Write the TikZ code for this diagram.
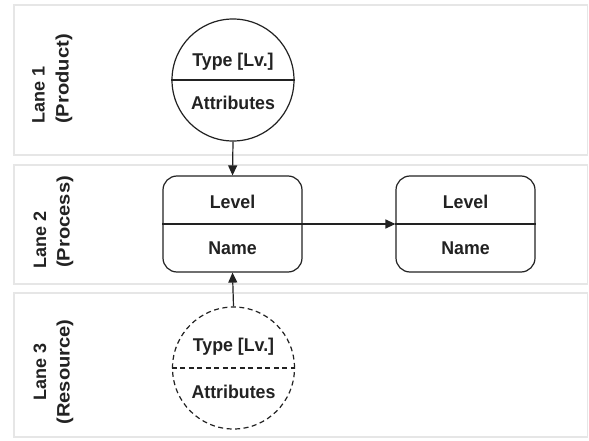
\documentclass[tikz,border=0pt]{standalone}
\usepackage{fontspec}
\setmainfont{Liberation Sans}
\usetikzlibrary{arrows.meta}
\definecolor{lanegrey}{HTML}{E6E6E6}
\definecolor{linegrey}{HTML}{222222}
\begin{document}
\begin{tikzpicture}[x=1pt,y=-1pt,
  lane/.style={draw=lanegrey, line width=1.5pt, fill=white},
  lanelbl/.style={rotate=90, font=\fontsize{18}{21}\selectfont\bfseries, inner sep=0pt, text=linegrey},
  lanenum/.style={lanelbl},
  lanesub/.style={lanelbl, xscale=1.12},
  txt/.style={font=\fontsize{18.5}{21}\selectfont\bfseries, inner sep=0pt, text=linegrey, xscale=0.96},
  circ/.style={draw=linegrey, line width=1.2pt, circle, minimum size=122pt, inner sep=0pt},
  dcirc/.style={circ, dash pattern=on 5pt off 3.5pt},
  procbox/.style={draw=linegrey, line width=1.2pt, rounded corners=14pt, minimum width=139pt, minimum height=96pt, inner sep=0pt},
  divider/.style={draw=linegrey, line width=1.2pt},
  conn/.style={draw=linegrey, line width=1.2pt, -{Triangle[length=10pt,width=9pt]}},
]
\useasboundingbox (0,0) rectangle (589,441);
\fill[white] (0,0) rectangle (589,441);
% lanes
\draw[lane] (14,5) rectangle (587.5,155);
\draw[lane] (14,165) rectangle (587.5,284);
\draw[lane] (14,293) rectangle (587.5,437);
% lane labels
\node[lanenum] (l1a) at (38.5,95) {Lane 1};
\node[lanesub] (l1b) at (64,79) {(Product)};
\node[lanenum] (l2a) at (40,240) {Lane 2};
\node[lanesub] (l2b) at (65,222) {(Process)};
\node[lanenum] (l3a) at (40,372) {Lane 3};
\node[lanesub] (l3b) at (65,372) {(Resource)};
% lane 1 circle
\node[circ] (c1) at (233,80) {};
\draw[divider] (c1.west) -- (c1.east);
\node[txt] (c1t) at (233,62) {Type [Lv.]};
\node[txt] (c1b) at (233,103) {Attributes};
% lane 2 boxes
\node[procbox] (b1) at (232.5,224) {};
\draw[divider] (b1.west) -- (b1.east);
\node[txt] (b1t) at (232.5,202) {Level};
\node[txt] (b1b) at (232.5,248) {Name};
\node[procbox] (b2) at (465.5,224) {};
\draw[divider] (b2.west) -- (b2.east);
\node[txt] (b2t) at (465.5,202) {Level};
\node[txt] (b2b) at (465.5,248) {Name};
% lane 3 circle
\node[dcirc] (c3) at (233.5,368) {};
\draw[divider, dash pattern=on 5pt off 3.5pt] (c3.west) -- (c3.east);
\node[txt] (c3t) at (233.5,347) {Type [Lv.]};
\node[txt] (c3b) at (233.5,392) {Attributes};
% connectors
\draw[conn] (c1.south) -- (b1.north);
\draw[conn] (c3.north) -- (b1.south);
\draw[conn] (b1.east) -- (b2.west);
\end{tikzpicture}
\end{document}
